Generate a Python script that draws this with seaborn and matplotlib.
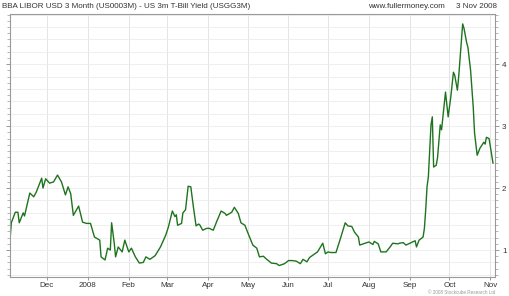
import matplotlib
matplotlib.use("Agg")
import matplotlib.pyplot as plt
import matplotlib.dates as mdates
from matplotlib.ticker import MultipleLocator, FixedLocator
import seaborn as sns
import pandas as pd

dates = [
    "2007-11-03", "2007-11-04", "2007-11-07", "2007-11-09", "2007-11-10", "2007-11-13", "2007-11-14", "2007-11-18", "2007-11-21", "2007-11-23",
    "2007-11-27", "2007-11-28", "2007-11-30", "2007-12-03", "2007-12-06", "2007-12-09", "2007-12-12", "2007-12-15", "2007-12-17", "2007-12-19",
    "2007-12-21", "2007-12-25", "2007-12-28", "2007-12-31", "2008-01-03", "2008-01-06", "2008-01-10", "2008-01-11", "2008-01-14", "2008-01-16",
    "2008-01-18", "2008-01-19", "2008-01-21", "2008-01-22", "2008-01-24", "2008-01-27", "2008-01-29", "2008-02-01", "2008-02-03", "2008-02-06",
    "2008-02-09", "2008-02-12", "2008-02-14", "2008-02-17", "2008-02-21", "2008-02-25", "2008-02-29", "2008-03-02", "2008-03-05", "2008-03-07",
    "2008-03-08", "2008-03-09", "2008-03-12", "2008-03-13", "2008-03-15", "2008-03-17", "2008-03-19", "2008-03-21", "2008-03-23", "2008-03-25",
    "2008-03-26", "2008-03-28", "2008-03-31", "2008-04-02", "2008-04-05", "2008-04-08", "2008-04-11", "2008-04-14", "2008-04-15", "2008-04-19",
    "2008-04-21", "2008-04-24", "2008-04-26", "2008-04-29", "2008-05-01", "2008-05-05", "2008-05-08", "2008-05-10", "2008-05-13", "2008-05-15",
    "2008-05-19", "2008-05-23", "2008-05-25", "2008-05-29", "2008-06-01", "2008-06-04", "2008-06-07", "2008-06-10", "2008-06-12", "2008-06-15",
    "2008-06-17", "2008-06-21", "2008-06-23", "2008-06-27", "2008-06-29", "2008-07-01", "2008-07-03", "2008-07-07", "2008-07-10", "2008-07-14",
    "2008-07-16", "2008-07-19", "2008-07-21", "2008-07-24", "2008-07-25", "2008-07-29", "2008-08-01", "2008-08-04", "2008-08-05", "2008-08-08",
    "2008-08-10", "2008-08-14", "2008-08-17", "2008-08-19", "2008-08-23",
    "2008-08-24", "2008-08-27", "2008-08-29", "2008-09-01", "2008-09-05", "2008-09-06", "2008-09-08", "2008-09-11", "2008-09-12", "2008-09-13",
    "2008-09-14", "2008-09-15", "2008-09-17", "2008-09-18", "2008-09-19", "2008-09-21", "2008-09-22", "2008-09-24", "2008-09-25", "2008-09-28",
    "2008-09-30", "2008-10-02", "2008-10-04", "2008-10-05", "2008-10-07", "2008-10-08", "2008-10-11", "2008-10-12", "2008-10-14", "2008-10-15",
    "2008-10-17", "2008-10-19", "2008-10-20", "2008-10-22", "2008-10-24", "2008-10-27", "2008-10-28", "2008-10-29", "2008-10-31", "2008-11-03",
]

spread = [
    1.16, 1.44, 1.61, 1.61, 1.44, 1.60, 1.55, 1.92, 1.86, 1.94,
    2.16, 2.00, 2.15, 2.08, 2.10, 2.21, 2.10, 1.89, 2.02, 1.91,
    1.56, 1.71, 1.45, 1.43, 1.43, 1.21, 1.16, 0.89, 0.84, 1.03,
    1.00, 1.44, 1.11, 0.89, 1.05, 0.97, 1.16, 0.97, 1.03, 0.89,
    0.79, 0.80, 0.89, 0.85, 0.91, 1.05, 1.24, 1.37, 1.63, 1.54,
    1.57, 1.40, 1.43, 1.60, 1.65, 2.03, 2.02, 1.69, 1.39, 1.42,
    1.40, 1.32, 1.35, 1.35, 1.32, 1.48, 1.63, 1.59, 1.56, 1.61,
    1.69, 1.59, 1.44, 1.40, 1.29, 1.08, 1.03, 0.89, 0.90, 0.86,
    0.79, 0.78, 0.75, 0.78, 0.83, 0.83, 0.82, 0.78, 0.85, 0.81,
    0.88, 0.94, 0.97, 1.11, 0.94, 0.97, 0.96, 0.96, 1.16, 1.44,
    1.39, 1.38, 1.29, 1.21, 1.08, 1.11, 1.13, 1.09, 1.14, 1.10,
    0.97, 0.97, 1.05, 1.11, 1.10,
    1.11, 1.12, 1.08, 1.11, 1.15, 1.05, 1.16, 1.21, 1.35, 1.65,
    2.02, 2.18, 3.02, 3.15, 2.34, 2.37, 2.50, 3.02, 2.94, 3.55,
    3.15, 3.47, 3.87, 3.82, 3.58, 3.80, 4.65, 4.58, 4.35, 4.27,
    3.90, 3.31, 2.89, 2.53, 2.64, 2.74, 2.71, 2.82, 2.80, 2.40,
]

month_ticks = ["2007-12-01", "2008-01-01", "2008-02-01", "2008-03-01", "2008-04-01", "2008-05-01",
               "2008-06-01", "2008-07-01", "2008-08-01", "2008-09-01", "2008-10-01", "2008-11-01"]
month_labels = ["Dec", "2008", "Feb", "Mar", "Apr", "May", "Jun", "Jul", "Aug", "Sep", "Oct", "Nov"]
y_ticks = [1, 2, 3, 4]

title = "BBA LIBOR USD 3 Month (US0003M) - US 3m T-Bill Yield (USGG3M)"
site = "www.fullermoney.com"
date_label = "3 Nov 2008"
copyright_text = "\u00a9 2008 Stockcube Research Ltd"

df = pd.DataFrame({"date": pd.to_datetime(dates), "spread": spread})

sns.set_style("white")
plt.rcParams["font.family"] = ["Liberation Sans", "DejaVu Sans"]

fig = plt.figure(figsize=(5.10, 2.96), dpi=100)
ax = fig.add_axes([10 / 510, 19 / 296, 485 / 510, 263 / 296])

sns.lineplot(data=df, x="date", y="spread", ax=ax, color="#1e741e", linewidth=1.0)

ax.set_xlim(pd.Timestamp("2007-11-03"), pd.Timestamp("2008-11-04 12:00"))
ax.set_ylim(0.565, 4.81)

ax.xaxis.set_major_locator(FixedLocator(mdates.date2num(pd.to_datetime(month_ticks))))
ax.set_xticklabels(month_labels)
ax.yaxis.set_major_locator(FixedLocator(y_ticks))
ax.yaxis.set_minor_locator(MultipleLocator(0.1))
ax.yaxis.tick_right()
ax.set_yticklabels([str(v) for v in y_ticks])
ax.set_xlabel("")
ax.set_ylabel("")

ax.tick_params(axis="x", which="major", length=2, width=0.6, color="#888888",
               labelsize=5.8, labelcolor="#333333", pad=1.5, bottom=True)
ax.tick_params(axis="y", which="major", length=3, width=0.6, color="#888888",
               labelsize=5.8, labelcolor="#333333", pad=2, left=True, right=True, direction="out")
ax.tick_params(axis="y", which="minor", length=2, width=0.5, color="#999999",
               left=True, right=True, direction="out")

# grid: month verticals and 0.2 horizontals
for d in month_ticks:
    ax.axvline(pd.Timestamp(d), color="#e4e4e4", linewidth=0.7, zorder=0)
yv = 0.6
while yv < 4.81:
    ax.axhline(yv, color="#ececec", linewidth=0.6, zorder=0)
    yv = round(yv + 0.2, 2)

for s in ax.spines.values():
    s.set_color("#9a9a9a")
    s.set_linewidth(0.8)

fig.text(2 / 510, 1 - 6 / 296, title, fontsize=5.8, color="#333333", va="center", ha="left")
fig.text(445 / 510, 1 - 6 / 296, site, fontsize=5.8, color="#333333", va="center", ha="right")
fig.text(497 / 510, 1 - 6 / 296, date_label, fontsize=5.8, color="#333333", va="center", ha="right")
fig.text(495 / 510, 1 - 292 / 296, copyright_text, fontsize=3.3, color="#999999", va="center", ha="right")

fig.savefig("out.png", dpi=100)
